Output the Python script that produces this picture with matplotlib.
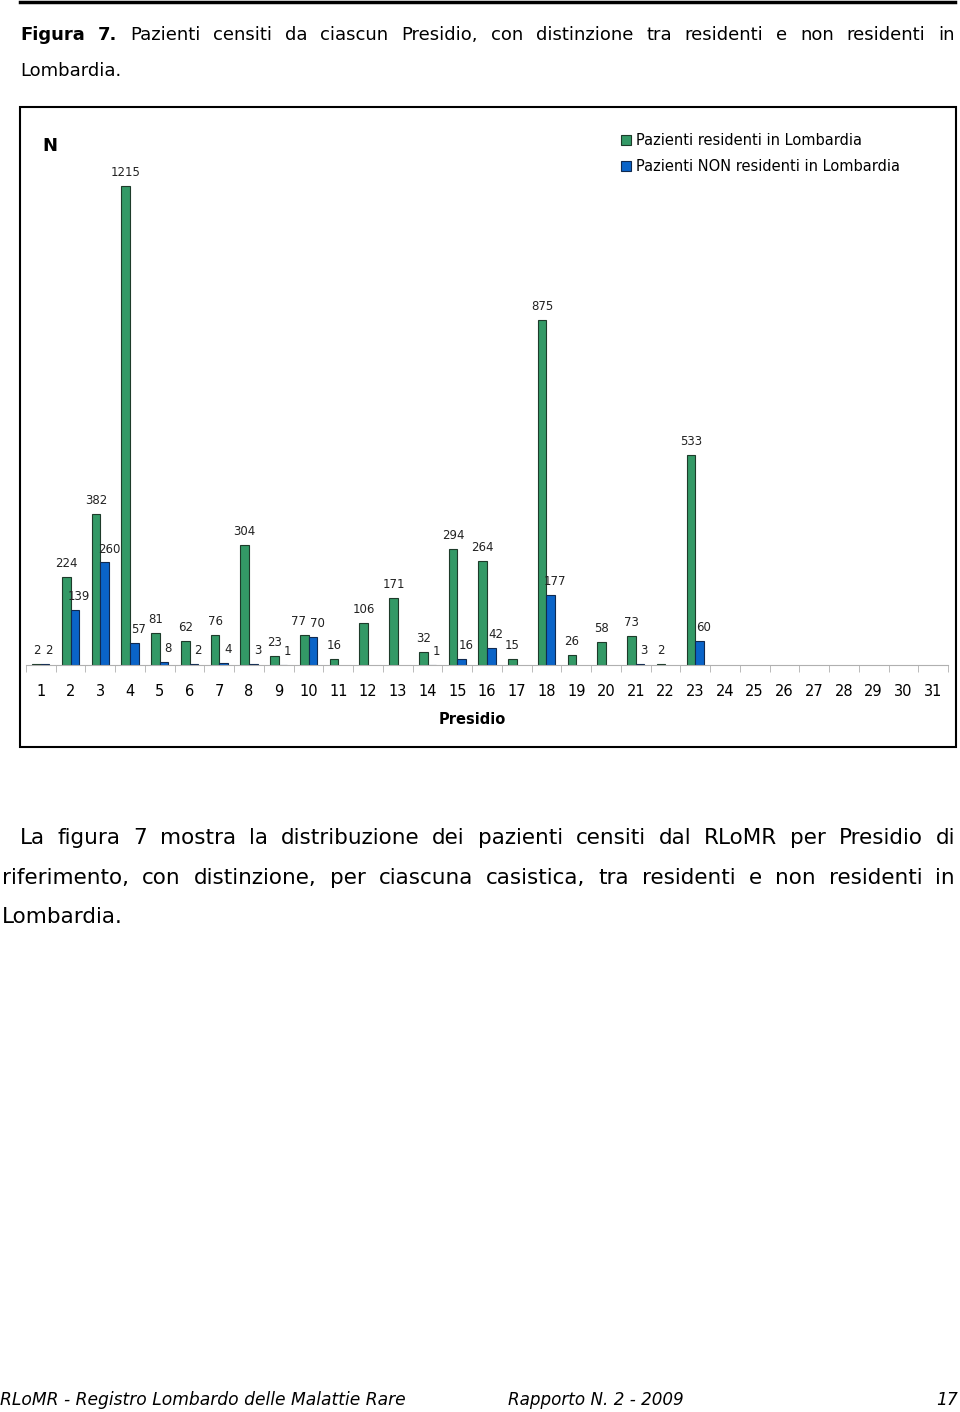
import numpy as np
import matplotlib
matplotlib.use('Agg')
import matplotlib.pyplot as plt
from matplotlib.patches import Rectangle
from matplotlib.lines import Line2D

# dati: pazienti censiti per presidio
presidi = list(range(1, 32))
residenti = [2, 224, 382, 1215, 81, 62, 76, 304, 23, 77, 16, 106, 171, 32, 294, 264,
             15, 875, 26, 58, 73, 2, 533, 0, 0, 0, 0, 0, 0, 0, 0]
non_residenti = [2, 139, 260, 57, 8, 2, 4, 3, 1, 70, 0, 0, 0, 1, 16, 42,
                 0, 177, 0, 0, 3, 0, 60, 0, 0, 0, 0, 0, 0, 0, 0]
serie = ['Pazienti residenti in Lombardia', 'Pazienti NON residenti in Lombardia']

caption_1 = 'Pazienti censiti da ciascun Presidio, con distinzione tra residenti e non residenti in'
par_1 = 'La figura 7 mostra la distribuzione dei pazienti censiti dal RLoMR per Presidio di'
par_2 = 'riferimento, con distinzione, per ciascuna casistica, tra residenti e non residenti in'

plt.rcParams['font.family'] = ['DejaVu Sans']

W, H = 960, 1412
fig = plt.figure(figsize=(W / 100, H / 100), dpi=100)


def fx(x):
    return x / W


def fy(y):
    return 1 - y / H


# riga nera in alto
fig.add_artist(Line2D([fx(20), fx(955)], [fy(2), fy(2)], color='black', lw=2.5))

renderer = fig.canvas.get_renderer()


def justify(words, y, x0, x1, size):
    # testo giustificato: parola per parola
    texts = []
    for w, wt in words:
        t = fig.text(0, fy(y), w, fontsize=size, weight=wt, va='center', ha='left')
        texts.append(t)
    widths = [t.get_window_extent(renderer).width for t in texts]
    gap = (x1 - x0 - sum(widths)) / (len(words) - 1)
    x = x0
    for t, wd in zip(texts, widths):
        t.set_x(fx(x))
        x += wd + gap


cap_words = [('Figura', 'bold'), ('7.', 'bold')] + [(w, 'normal') for w in caption_1.split()]
justify(cap_words, 35, 20, 955, 13)
fig.text(fx(20), fy(71), 'Lombardia.', fontsize=13, va='center')

# riquadro del grafico
fig.add_artist(Rectangle((fx(20), fy(747)), fx(936), (747 - 107) / H, transform=fig.transFigure,
                         fill=False, edgecolor='black', lw=1.5))

ax = fig.add_axes([fx(26), fy(665), fx(948) - fx(26), (665 - 113) / H])
x = np.array(presidi)
w = 0.29
lw_r = [0.8 if v > 0 else 0 for v in residenti]
lw_n = [0.8 if v > 0 else 0 for v in non_residenti]
b1 = ax.bar(x - w / 2, residenti, w, color='#339966', edgecolor='#1d3b2a', linewidth=lw_r, label=serie[0])
b2 = ax.bar(x + w / 2, non_residenti, w, color='#0a64c8', edgecolor='#102a50', linewidth=lw_n, label=serie[1])

for xi, v in zip(x, residenti):
    if v > 0:
        dx = -4 if xi == 10 else 0
        ax.annotate(str(v), (xi - w / 2, v), xytext=(dx, 5), textcoords='offset points',
                    ha='center', va='bottom', fontsize=8.5, color='#222222')
for xi, v in zip(x, non_residenti):
    if v > 0:
        ax.annotate(str(v), (xi + w / 2, v), xytext=(3, 5), textcoords='offset points',
                    ha='center', va='bottom', fontsize=8.5, color='#222222')

ax.set_xlim(0.5, 31.5)
ax.set_ylim(0, 1400)
for s in ['top', 'right', 'left']:
    ax.spines[s].set_visible(False)
ax.spines['bottom'].set_color('#b0b0b0')
ax.set_yticks([])
ax.set_xticks(presidi)
ax.set_xticklabels([str(p) for p in presidi], fontsize=10.5)
ax.tick_params(axis='x', which='major', length=0, pad=14)
ax.set_xticks(np.arange(0.5, 32, 1), minor=True)
ax.tick_params(axis='x', which='minor', length=5, color='#b0b0b0', direction='out')
ax.patch.set_visible(False)

ax.legend(handles=[b1, b2], loc='upper left', bbox_to_anchor=(fx(621), fy(133)),
          bbox_transform=fig.transFigure, frameon=False, fontsize=10.5,
          handlelength=0.7, handleheight=0.7, handletextpad=0.3,
          borderaxespad=0, borderpad=0, labelspacing=0.75)

fig.text(fx(50), fy(146), 'N', fontsize=13, weight='bold', ha='center', va='center')
fig.text(fx(472), fy(720), 'Presidio', fontsize=10.5, weight='bold', ha='center', va='center')

# testo sotto il grafico
justify([(w_, 'normal') for w_ in par_1.split()], 838, 20, 955, 15.5)
justify([(w_, 'normal') for w_ in par_2.split()], 878, 2, 955, 15.5)
fig.text(fx(2), fy(917), 'Lombardia.', fontsize=15.5, va='center')

# pie di pagina
fig.text(fx(0), fy(1400), 'RLoMR - Registro Lombardo delle Malattie Rare', fontsize=12.3,
         style='italic', va='center', ha='left')
fig.text(fx(508), fy(1400), 'Rapporto N. 2 - 2009', fontsize=12.1, style='italic', va='center', ha='left')
fig.text(fx(958), fy(1400), '17', fontsize=12.3, style='italic', va='center', ha='right')

fig.savefig('out.png', dpi=100)
